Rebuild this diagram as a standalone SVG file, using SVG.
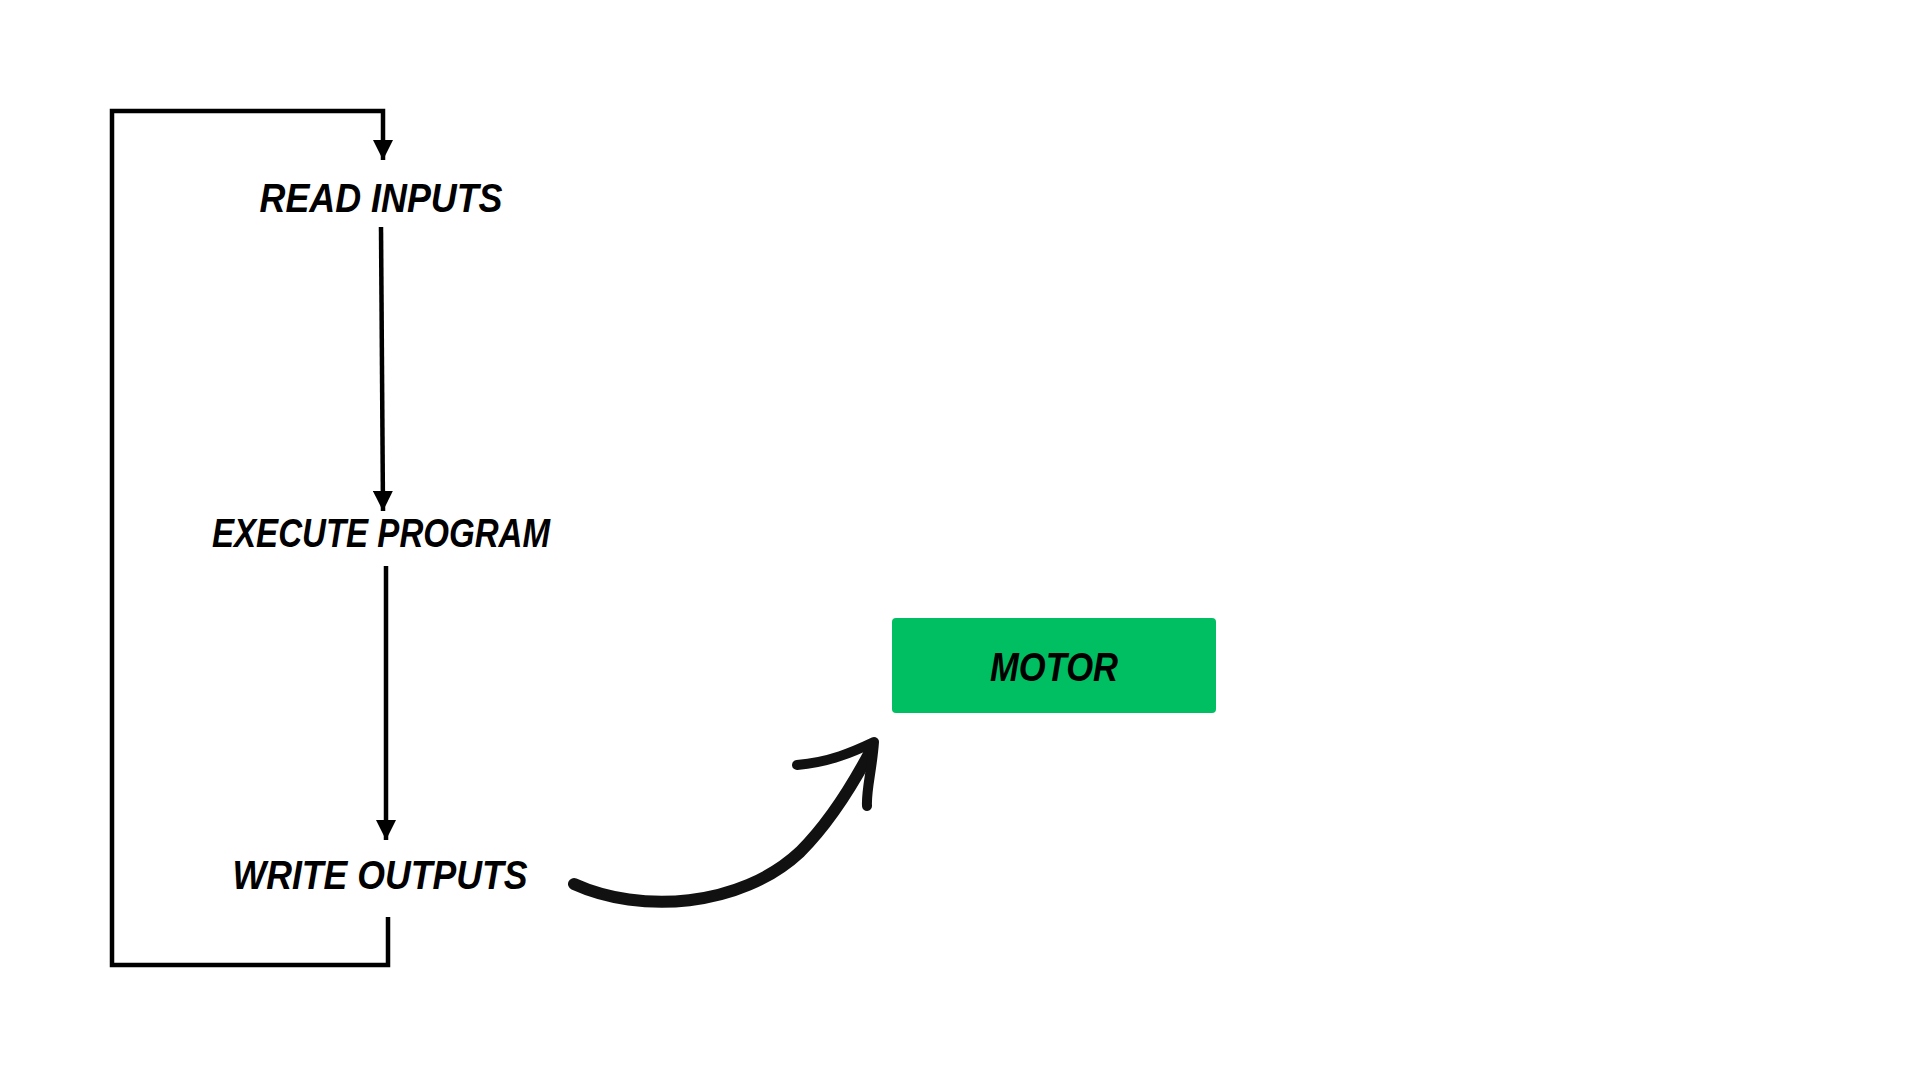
<svg xmlns="http://www.w3.org/2000/svg" width="1920" height="1080" viewBox="0 0 1920 1080">
<style>
.lbl{font-family:"Liberation Sans",Arial,sans-serif;font-weight:bold;font-style:italic;font-size:40px;fill:#000;text-anchor:middle}
.ln{fill:none;stroke:#000;stroke-width:4.5}
</style>
<defs>
<marker id="ah" viewBox="0 0 10 10" refX="10" refY="5" markerWidth="4.5" markerHeight="4.5" orient="auto" markerUnits="strokeWidth">
<path d="M0,0 L10,5 L0,10 Z" fill="#000"/>
</marker>
</defs>
<rect width="1920" height="1080" fill="#fff"/>
<g id="connectors">
<path class="ln" d="M388,917 L388,965 L112,965 L112,111 L383,111 L383,160" marker-end="url(#ah)"/>
<path class="ln" d="M381,227 L383,511" marker-end="url(#ah)"/>
<path class="ln" d="M386,566 L386,840" marker-end="url(#ah)"/>
<g id="curved-arrow" fill="none" stroke="#111" stroke-linecap="round" stroke-linejoin="round">
<path d="M574,884 C640,914 740,908 800,852 C830,822 852,786 870,752" stroke-width="12"/>
<path d="M797,765 C830,762 853,752 874,742 C872,770 866,790 867,806" stroke-width="10"/>
</g>
</g>
<g id="read-inputs"><text class="lbl" x="381" y="212" textLength="243" lengthAdjust="spacingAndGlyphs">READ INPUTS</text></g>
<g id="execute-program"><text class="lbl" x="381" y="547" textLength="338" lengthAdjust="spacingAndGlyphs">EXECUTE PROGRAM</text></g>
<g id="write-outputs"><text class="lbl" x="380" y="889" textLength="295" lengthAdjust="spacingAndGlyphs">WRITE OUTPUTS</text></g>
<g id="motor">
<rect x="892" y="618" width="324" height="95" rx="4" fill="#00BF63"/>
<text class="lbl" x="1054" y="681" textLength="128" lengthAdjust="spacingAndGlyphs">MOTOR</text>
</g>
</svg>
